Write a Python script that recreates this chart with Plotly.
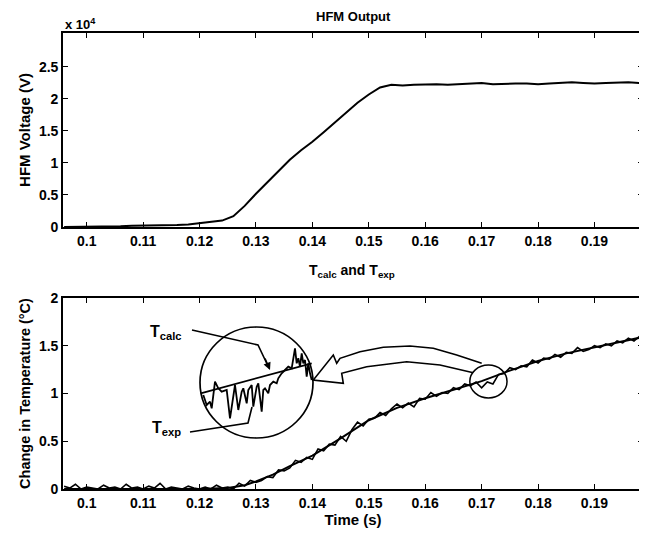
import plotly.graph_objects as go

# ---------------- data ----------------
hfm_time = [0.096, 0.098, 0.100, 0.102, 0.104, 0.106, 0.108, 0.110, 0.112, 0.114,
            0.116, 0.118, 0.120, 0.122, 0.124, 0.126, 0.128, 0.130, 0.132, 0.134,
            0.136, 0.138, 0.140, 0.142, 0.144, 0.146, 0.148, 0.150, 0.152, 0.154,
            0.156, 0.158, 0.160, 0.162, 0.164, 0.166, 0.168, 0.170, 0.172, 0.174,
            0.176, 0.178, 0.180, 0.182, 0.184, 0.186, 0.188, 0.190, 0.192, 0.194,
            0.196, 0.198]
hfm_voltage_e4 = [0.00, 0.00, 0.01, 0.01, 0.01, 0.01, 0.02, 0.02, 0.02, 0.03,
                  0.03, 0.04, 0.06, 0.07, 0.10, 0.17, 0.33, 0.52, 0.70, 0.88,
                  1.05, 1.20, 1.33, 1.48, 1.63, 1.79, 1.94, 2.07, 2.18, 2.22,
                  2.21, 2.22, 2.23, 2.23, 2.22, 2.23, 2.24, 2.25, 2.23, 2.24,
                  2.24, 2.24, 2.23, 2.24, 2.25, 2.26, 2.25, 2.24, 2.25, 2.26,
                  2.26, 2.25]

calc_time = [0.096, 0.120, 0.125, 0.128, 0.130, 0.133, 0.136, 0.140, 0.145, 0.150,
             0.155, 0.160, 0.165, 0.170, 0.175, 0.180, 0.185, 0.190, 0.195, 0.1985]
t_calc = [0.00, 0.00, 0.01, 0.04, 0.08, 0.15, 0.24, 0.35, 0.53, 0.72,
          0.85, 0.95, 1.04, 1.13, 1.24, 1.34, 1.42, 1.48, 1.54, 1.59]

exp_time = [round(0.096 + 0.001 * i, 3) for i in range(103)]
t_exp = [0.03, 0.01, 0.05, 0.00, 0.02, 0.01, 0.00, 0.04, 0.01, 0.02,
         0.00, 0.05, 0.01, 0.02, 0.00, 0.03, 0.01, 0.06, 0.00, 0.02,
         0.01, 0.00, 0.03, 0.01, 0.00, 0.02, 0.00, 0.04, 0.01,
         0.02, 0.00, 0.06, 0.03, 0.09, 0.07, 0.09, 0.13, 0.12, 0.20, 0.19,
         0.22, 0.30, 0.28, 0.33, 0.31, 0.42, 0.40, 0.47, 0.46, 0.55,
         0.50, 0.62, 0.70, 0.66, 0.73, 0.74, 0.80, 0.77, 0.84, 0.89,
         0.85, 0.90, 0.86, 0.95, 0.94, 1.01, 0.97, 1.01, 1.00, 1.06,
         1.04, 1.10, 1.08, 1.12, 1.06, 1.12, 1.10, 1.20, 1.21, 1.27,
         1.25, 1.29, 1.28, 1.35, 1.32, 1.37, 1.36, 1.41, 1.38, 1.43,
         1.42, 1.48, 1.44, 1.46, 1.50, 1.48, 1.52, 1.50, 1.55, 1.53,
         1.58, 1.55, 1.60]

# magnified view shown inside the large circle (local units)
inset_x = [3.3, 6.7, 10, 11.7, 15, 18.3, 21.7, 26.7, 30, 33.3, 35, 38.3, 41.7, 43.3,
           46.7, 48.3, 51.7, 53.3, 56.7, 58.3, 61.7, 63.3, 65, 68.3, 70, 73.3, 76.7,
           78.3, 81.7, 85, 88.3, 91.7, 95, 96.7, 98.3, 100, 101.7, 103.3, 105, 106.7,
           108.3, 110, 111.7]
inset_exp = [43, 33, 36.3, 29.7, 56.3, 49.7, 46.3, 48, 19.7, 44.7, 53, 28, 46.3, 49.7,
             34.7, 48, 53, 31.3, 51.3, 54.7, 26.3, 48, 49.7, 44.7, 53, 56.3, 54.7,
             59.7, 64.7, 68, 71.3, 69.7, 89.7, 74.7, 79.7, 71.3, 84.7, 74.7, 78, 61.3,
             74.7, 64.7, 58]
inset_calc_x = [0.7, 111.7]
inset_calc = [44.7, 74.7]

x_ticks = [0.10, 0.11, 0.12, 0.13, 0.14, 0.15, 0.16, 0.17, 0.18, 0.19]
x_tick_labels = ["0.1", "0.11", "0.12", "0.13", "0.14", "0.15", "0.16", "0.17", "0.18", "0.19"]
y1_ticks = [0, 0.5, 1, 1.5, 2, 2.5]
y1_tick_labels = ["0", "0.5", "1", "1.5", "2", "2.5"]
y2_ticks = [0, 0.5, 1, 1.5, 2]
y2_tick_labels = ["0", "0.5", "1", "1.5", "2"]

# ---------------- layout helpers ----------------
OFF = 8                      # default page body margin
W, H = 647 - OFF, 533 - OFF  # figure size inside the window
L, R, T, B = 63 - OFF, 4, 33 - OFF, 44
PW, PH = W - L - R, H - T - B


def P(x, y):
    """window pixel -> paper fraction"""
    return (x - OFF - L) / PW, (H - B - (y - OFF)) / PH


FONT = "Liberation Sans, Arial, sans-serif"
BLACK = "black"

fig = go.Figure()
fig.add_trace(go.Scatter(x=hfm_time, y=hfm_voltage_e4, mode="lines",
                         line=dict(color=BLACK, width=2), xaxis="x", yaxis="y"))
fig.add_trace(go.Scatter(x=calc_time, y=t_calc, mode="lines",
                         line=dict(color=BLACK, width=2), xaxis="x2", yaxis="y2"))
fig.add_trace(go.Scatter(x=exp_time, y=t_exp, mode="lines",
                         line=dict(color=BLACK, width=1.6), xaxis="x2", yaxis="y2"))
fig.add_trace(go.Scatter(x=inset_calc_x, y=inset_calc, mode="lines",
                         line=dict(color=BLACK, width=1.8), xaxis="x3", yaxis="y3"))
fig.add_trace(go.Scatter(x=inset_x, y=inset_exp, mode="lines",
                         line=dict(color=BLACK, width=1.8), xaxis="x3", yaxis="y3"))

top_y0 = P(0, 227)[1]
bot_y1 = P(0, 298)[1]

TF = dict(family=FONT, size=14, color=BLACK, weight="bold")
axis_common = dict(showline=True, linecolor=BLACK, linewidth=1.6, mirror="ticks",
                   ticks="inside", ticklen=5, tickwidth=1.3, tickcolor=BLACK,
                   showgrid=False, zeroline=False, automargin=False, tickfont=TF)

fig.update_layout(
    width=W, height=H, margin=dict(l=L, r=R, t=T, b=B, autoexpand=False),
    paper_bgcolor="white", plot_bgcolor="white", showlegend=False,
    font=dict(family=FONT, color=BLACK),
    xaxis=dict(domain=[0, 1], range=[0.0958, 0.1986], anchor="y",
               tickvals=x_ticks, ticktext=x_tick_labels, **axis_common),
    yaxis=dict(domain=[top_y0, 1], range=[0, 3.03], anchor="x",
               tickvals=y1_ticks, ticktext=y1_tick_labels,
               title=dict(text="HFM Voltage (V)", standoff=5,
                          font=dict(family=FONT, size=15, color=BLACK, weight="bold")),
               **axis_common),
    xaxis2=dict(domain=[0, 1], range=[0.0958, 0.1986], anchor="y2",
                tickvals=x_ticks, ticktext=x_tick_labels,
                title=dict(text="Time (s)", standoff=1,
                           font=dict(family=FONT, size=15, color=BLACK, weight="bold")),
                **axis_common),
    yaxis2=dict(domain=[0, bot_y1], range=[0, 2], anchor="x2",
                tickvals=y2_ticks, ticktext=y2_tick_labels,
                title=dict(text="Change in Temperature (°C)", standoff=5,
                           font=dict(family=FONT, size=14.5, color=BLACK, weight="bold")),
                **axis_common),
    xaxis3=dict(domain=[P(200, 0)[0], P(313, 0)[0]], range=[0, 113], anchor="y3",
                visible=False, fixedrange=True),
    yaxis3=dict(domain=[P(0, 438)[1], P(0, 327)[1]], range=[0, 111], anchor="x3",
                visible=False, fixedrange=True),
)

shapes = []
# large circle (magnifier)
shapes.append(dict(type="circle", xref="x3 domain", yref="y3 domain",
                   x0=0, x1=1, y0=0, y1=1, line=dict(color=BLACK, width=1.7)))
# small circle on the curve
shapes.append(dict(type="circle", xref="x2", yref="y2",
                   x0=0.1679, x1=0.1745, y0=0.953, y1=1.298,
                   line=dict(color=BLACK, width=1.5)))


def path(points, close=False):
    s = ""
    for i, (x, y) in enumerate(points):
        px_, py_ = P(x, y)
        s += ("M" if i == 0 else "L") + f"{px_:.5f},{py_:.5f} "
    if close:
        s += "Z"
    return s


# hollow curved arrow
arrow_pts = [(481.7, 363.3), (456.7, 355), (433.3, 348.3), (410, 346), (383.3, 347.3),
             (360, 351.7), (340, 358.3), (336.7, 363.3), (333.3, 355), (313.3, 380),
             (343.3, 383.3), (341.7, 373.3), (366.7, 366.7), (406.7, 361.7), (440, 365),
             (473.3, 372.7)]
shapes.append(dict(type="path", xref="paper", yref="paper", path=path(arrow_pts),
                   line=dict(color=BLACK, width=1.6)))
# pointer lines for labels
shapes.append(dict(type="path", xref="paper", yref="paper",
                   path=path([(192, 330), (258, 345), (268, 366)]),
                   line=dict(color=BLACK, width=1.6)))
shapes.append(dict(type="path", xref="paper", yref="paper",
                   path=path([(190, 432), (248, 423), (252, 407)]),
                   line=dict(color=BLACK, width=1.6)))
fig.update_layout(shapes=shapes)


def label(text, x, y, size, xanchor="center"):
    tx, ty = P(x, y)
    return dict(text=text, x=tx, y=ty, xref="paper", yref="paper",
                xanchor=xanchor, yanchor="middle", showarrow=False,
                font=dict(family=FONT, size=size, color=BLACK))


annotations = [
    label("<b>HFM Output</b>", 354, 16, 13),
    label("<b>T<sub>calc</sub> and T<sub>exp</sub></b>", 352, 271, 14),
    label("<b>x 10<sup>4</sup></b>", 63, 24, 13, xanchor="left"),
    label("<b>T<sub>calc</sub></b>", 166, 332, 16),
    label("<b>T<sub>exp</sub></b>", 166, 428, 16),
]
# arrowhead of T_calc pointer
tx, ty = P(270, 370)
annotations.append(dict(text=" ", x=tx, y=ty, xref="paper", yref="paper", showarrow=True,
                        ax=-6, ay=-14, arrowhead=2, arrowsize=1, arrowwidth=1.5,
                        arrowcolor=BLACK, font=dict(size=2)))
fig.update_layout(annotations=annotations)

fig.write_html("out.html")
